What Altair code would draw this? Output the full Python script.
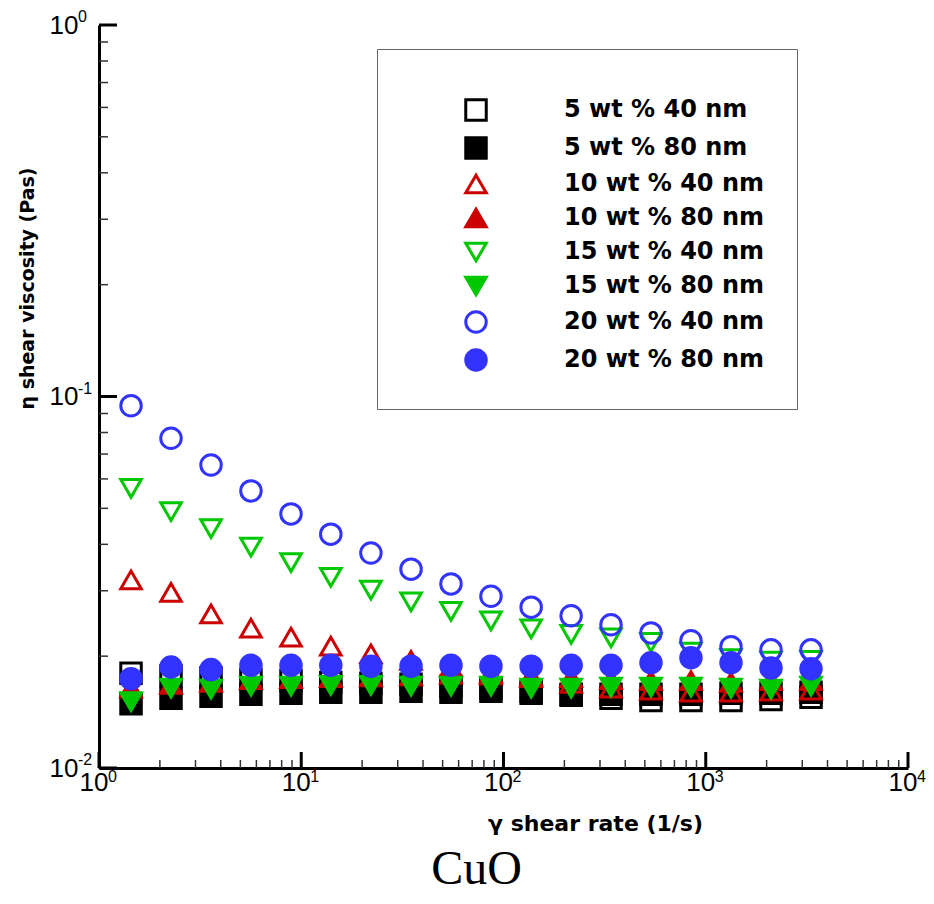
import altair as alt
import pandas as pd

# ---------------- data ----------------
shear_rate = [1.44, 2.27, 3.58, 5.64, 8.90, 14.0, 22.1, 34.9, 55.0, 86.7,
              137, 216, 340, 536, 845, 1333, 2102, 3315]

series_names = ["5 wt % 40 nm", "5 wt % 80 nm", "10 wt % 40 nm", "10 wt % 80 nm",
                "15 wt % 40 nm", "15 wt % 80 nm", "20 wt % 40 nm", "20 wt % 80 nm"]

visc_5_40 = [0.0180, 0.0177, 0.0175, 0.0173, 0.0172, 0.0170, 0.0169, 0.0168, 0.0166,
             0.0164, 0.0161, 0.0158, 0.0154, 0.0152, 0.0152, 0.0152, 0.0153, 0.0155]
visc_5_80 = [0.0149, 0.0154, 0.0156, 0.0158, 0.0159, 0.0160, 0.0160, 0.0161, 0.0160,
             0.0161, 0.0159, 0.0157, 0.0158, 0.0158, 0.0158, 0.0159, 0.0159, 0.0160]
visc_10_40 = [0.0321, 0.0297, 0.0260, 0.0238, 0.0225, 0.0213, 0.0203, 0.0195, 0.0187,
              0.0180, 0.0175, 0.0169, 0.0164, 0.0162, 0.0160, 0.0160, 0.0161, 0.0162]
visc_10_80 = [0.0164, 0.0168, 0.0170, 0.0173, 0.0174, 0.0175, 0.0176, 0.0177, 0.0179,
              0.0178, 0.0177, 0.0175, 0.0173, 0.0172, 0.0172, 0.0170, 0.0172, 0.0172]
visc_15_40 = [0.0566, 0.0490, 0.0441, 0.0393, 0.0357, 0.0326, 0.0301, 0.0280, 0.0264,
              0.0249, 0.0237, 0.0229, 0.0224, 0.0218, 0.0205, 0.0197, 0.0194, 0.0195]
visc_15_80 = [0.0151, 0.0164, 0.0163, 0.0166, 0.0166, 0.0167, 0.0167, 0.0166, 0.0166,
              0.0166, 0.0164, 0.0164, 0.0165, 0.0165, 0.0165, 0.0164, 0.0163, 0.0166]
visc_20_40 = [0.0944, 0.0772, 0.0654, 0.0557, 0.0483, 0.0426, 0.0379, 0.0343, 0.0313,
              0.0290, 0.0271, 0.0257, 0.0243, 0.0231, 0.0220, 0.0212, 0.0208, 0.0208]
visc_20_80 = [0.0174, 0.0187, 0.0184, 0.0189, 0.0189, 0.0189, 0.0188, 0.0188, 0.0189,
              0.0188, 0.0188, 0.0189, 0.0189, 0.0192, 0.0198, 0.0192, 0.0186, 0.0185]

all_series = [visc_5_40, visc_5_80, visc_10_40, visc_10_80,
              visc_15_40, visc_15_80, visc_20_40, visc_20_80]

x_major_ticks = [1, 10, 100, 1000, 10000]
x_tick_exponents = ["0", "1", "2", "3", "4"]
x_minor_ticks = [m * 10 ** e for e in range(4) for m in range(2, 10)]
y_major_ticks = [0.01, 0.1, 1]
y_tick_exponents = ["-2", "-1", "0"]
y_minor_ticks = [m * 10.0 ** e for e in (-2, -1) for m in range(2, 10)]

# ---------------- styling ----------------
shapes = ["square", "square", "triangle-up", "triangle-up",
          "triangle-down", "triangle-down", "circle", "circle"]
RED, GREEN, BLUE = "#CC0000", "#00C800", "#3333FF"
strokes = ["black", "black", RED, RED, GREEN, GREEN, BLUE, BLUE]
fills = ["transparent", "black", "transparent", RED, "transparent", GREEN, "transparent", BLUE]
sizes = [420, 420, 640, 640, 640, 640, 680, 680]

rows = []
for name, vals in zip(series_names, all_series):
    for xv, yv in zip(shear_rate, vals):
        rows.append({"rate": xv, "visc": yv, "series": name})
df = pd.DataFrame(rows)

W, H = 809, 743
xscale = alt.Scale(type="log", domain=[1, 10000], nice=False)
yscale = alt.Scale(type="log", domain=[0.01, 1], nice=False)
LABEL_FONT = "Liberation Sans"

xaxis = alt.Axis(
    values=x_major_ticks, labelExpr="'10'",
    ticks=False, grid=False, domainColor="black", domainWidth=3,
    labelFont=LABEL_FONT, labelFontSize=26, labelColor="black",
    labelPadding=1, labelBaseline="top", labelAlign="right", labelOffset=9,
    labelFlush=False, labelOverlap=False,
    title="γ shear rate (1/s)", titleFont="DejaVu Sans", titleFontSize=22,
    titleFontWeight="bold", titleColor="black", titleX=496, titleY=62,
    titleAlign="center", titleBaseline="alphabetic",
)
yaxis = alt.Axis(
    values=y_major_ticks, labelExpr="'10'",
    ticks=False, grid=False, domainColor="black", domainWidth=3,
    labelFont=LABEL_FONT, labelFontSize=26, labelColor="black",
    labelPadding=21, labelAlign="right", labelBaseline="middle",
    labelFlush=False, labelOverlap=False,
    title="η shear viscosity (Pas)", titleFont="DejaVu Sans", titleFontSize=19,
    titleFontWeight="bold", titleColor="black", titleAngle=270,
    titleX=-66, titleY=263, titleAlign="center", titleBaseline="alphabetic",
)

leg = alt.Legend(
    orient="none", legendX=278, legendY=24, title=" ", titleFontSize=10, titlePadding=7,
    padding=32, strokeColor="#666666", fillColor="white",
    labelFont="DejaVu Sans", labelFontSize=24, labelFontWeight="bold", labelColor="black",
    labelOffset=76, symbolOffset=55, rowPadding=4, symbolStrokeWidth=3, labelLimit=400,
)

points = alt.Chart(df).mark_point(strokeWidth=3, opacity=1).encode(
    x=alt.X("rate:Q", scale=xscale, axis=xaxis),
    y=alt.Y("visc:Q", scale=yscale, axis=yaxis),
    shape=alt.Shape("series:N", scale=alt.Scale(domain=series_names, range=shapes),
                    sort=series_names, legend=leg),
    stroke=alt.Stroke("series:N", scale=alt.Scale(domain=series_names, range=strokes),
                      sort=series_names, legend=leg),
    fill=alt.Fill("series:N", scale=alt.Scale(domain=series_names, range=fills),
                  sort=series_names, legend=leg),
    size=alt.Size("series:N", scale=alt.Scale(domain=series_names, range=sizes),
                  sort=series_names, legend=leg),
)

xmaj = alt.Chart(pd.DataFrame({"rate": x_major_ticks})).mark_rule(
    color="black", strokeWidth=3).encode(
    x=alt.X("rate:Q", scale=xscale, axis=xaxis), y=alt.value(H), y2=alt.value(H - 16))
xmin = alt.Chart(pd.DataFrame({"rate": x_minor_ticks})).mark_rule(
    color="#333333", strokeWidth=1.5).encode(
    x=alt.X("rate:Q", scale=xscale, axis=xaxis), y=alt.value(H), y2=alt.value(H - 8))
ymaj = alt.Chart(pd.DataFrame({"visc": y_major_ticks})).mark_rule(
    color="black", strokeWidth=3).encode(
    y=alt.Y("visc:Q", scale=yscale, axis=yaxis), x=alt.value(0), x2=alt.value(18))
ymin = alt.Chart(pd.DataFrame({"visc": y_minor_ticks})).mark_rule(
    color="#333333", strokeWidth=1.5).encode(
    y=alt.Y("visc:Q", scale=yscale, axis=yaxis), x=alt.value(0), x2=alt.value(9))

# superscript exponents of the tick labels
xexp = alt.Chart(pd.DataFrame({"rate": x_major_ticks, "exp": x_tick_exponents})).mark_text(
    align="left", baseline="top", dx=9, font=LABEL_FONT, fontSize=16, color="black").encode(
    x=alt.X("rate:Q", scale=xscale, axis=xaxis), y=alt.value(H + 1), text="exp:N")
yexp = alt.Chart(pd.DataFrame({"visc": y_major_ticks, "exp": y_tick_exponents})).mark_text(
    align="left", baseline="middle", dy=-8, font=LABEL_FONT, fontSize=16, color="black").encode(
    y=alt.Y("visc:Q", scale=yscale, axis=yaxis), x=alt.value(-21), text="exp:N")

chart = alt.layer(points, xmin, xmaj, ymin, ymaj, xexp, yexp).properties(
    width=W, height=H,
    autosize=alt.AutoSizeParams(type="none"),
    padding={"left": 91, "top": 17, "right": 18, "bottom": 128},
    title=alt.TitleParams("CuO", orient="bottom", font="Liberation Serif", fontSize=48,
                          fontWeight="normal", color="black", anchor="middle",
                          offset=12, dx=-27),
).configure_view(stroke="transparent")

chart.save("out.html", embed_options={"renderer": "svg", "actions": False})
